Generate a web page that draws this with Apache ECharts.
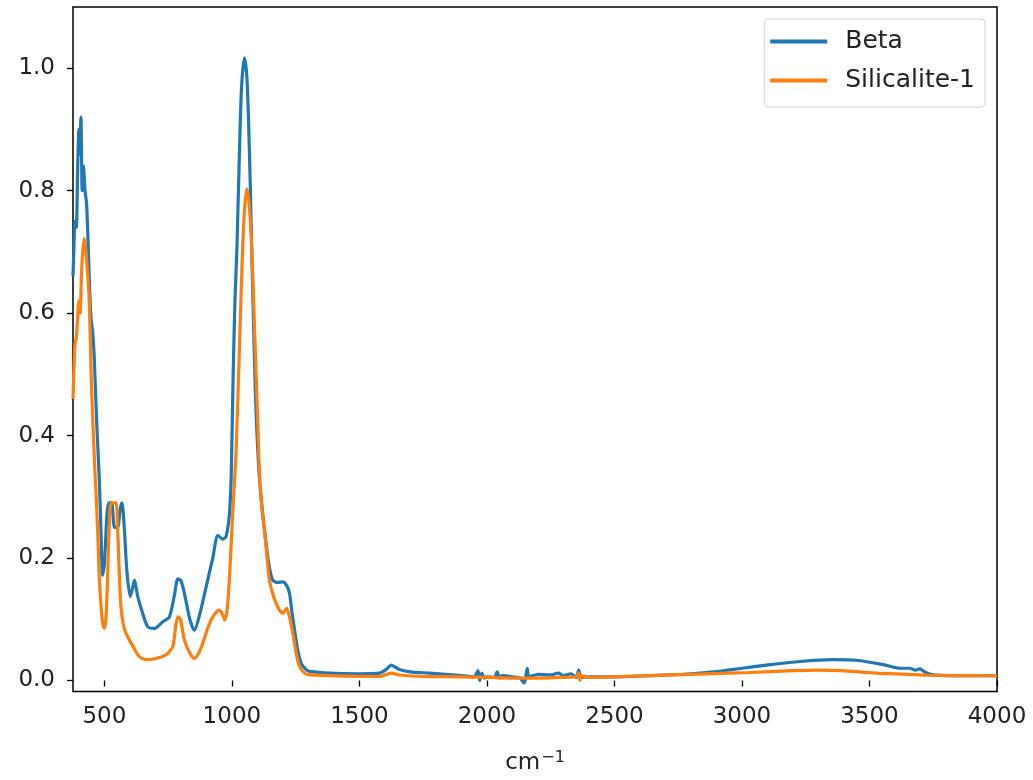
<!DOCTYPE html>
<html>
<head>
<meta charset="utf-8">
<script src="https://cdn.jsdelivr.net/npm/echarts@6/dist/echarts.min.js"></script>
<style>
  html, body { margin: 0; padding: 0; background: #fff; }
  #chart { width: 1033px; height: 780px; }
</style>
</head>
<body>
<div id="chart"></div>
<script>
// wavenumbers (cm-1) and absorbance
const betaWn = [377, 380, 385, 390, 395, 400, 403, 408, 413, 418, 424, 430, 435, 442, 448, 454, 460, 470, 480, 487, 493,
  500, 510, 517, 528, 540, 552, 562, 569, 578, 588, 601, 610, 618, 625, 631, 650, 670, 696, 729, 755, 775, 788, 800,
  814, 835, 853, 875, 899, 925, 945, 964, 977, 990, 997, 1005, 1012, 1020, 1030, 1038, 1049, 1058, 1065, 1072, 1078,
  1085, 1093, 1101, 1110, 1128, 1145, 1160, 1180, 1199, 1215, 1226, 1236, 1246, 1258, 1272, 1290, 1304, 1383, 1500,
  1579, 1605, 1625, 1640, 1657, 1700, 1775, 1900, 1950, 1965, 1972, 1980, 1990, 2000, 2030, 2040, 2050, 2060, 2100,
  2130, 2145, 2150, 2158, 2165, 2200, 2250, 2280, 2300, 2330, 2350, 2360, 2370, 2400, 2500, 2650, 2800, 2900, 3000,
  3096, 3227, 3358, 3449, 3554, 3620, 3658, 3680, 3697, 3720, 3750, 3850, 4000];
const betaAbs = [0.66, 0.70, 0.75, 0.74, 0.83, 0.90, 0.86, 0.92, 0.80, 0.84, 0.80, 0.78, 0.73, 0.64, 0.59, 0.57, 0.53, 0.42, 0.33, 0.24, 0.172,
  0.19, 0.27, 0.29, 0.29, 0.25, 0.25, 0.28, 0.29, 0.25, 0.18, 0.137, 0.15, 0.164, 0.15, 0.137, 0.11, 0.088, 0.085, 0.096, 0.104, 0.14, 0.166, 0.163,
  0.142, 0.10, 0.082, 0.11, 0.153, 0.20, 0.237, 0.231, 0.235, 0.27, 0.33, 0.50, 0.62, 0.71, 0.87, 0.97, 1.017, 0.99, 0.92, 0.81, 0.70,
  0.58, 0.46, 0.38, 0.32, 0.245, 0.19, 0.164, 0.16, 0.161, 0.155, 0.142, 0.11, 0.082, 0.05, 0.028, 0.018, 0.015, 0.012, 0.011,
  0.012, 0.018, 0.025, 0.022, 0.018, 0.014, 0.012, 0.008, 0.006, 0.016, 0.0, 0.012, 0.004, 0.006, 0.005, 0.014, 0.004, 0.008, 0.006,
  0.004, -0.004, 0.0, 0.02, 0.006, 0.01, 0.009, 0.012, 0.008, 0.011, 0.005, 0.017, 0.005, 0.006, 0.006, 0.008, 0.011, 0.0146, 0.02,
  0.025, 0.031, 0.034, 0.033, 0.026, 0.02, 0.02, 0.017, 0.019, 0.013, 0.0093, 0.008, 0.0077];

const silWn = [377, 380, 385, 390, 395, 400, 405, 410, 415, 421, 428, 435, 441, 448, 455, 462, 468, 474, 480, 487, 493,
  500, 506, 512, 518, 526, 536, 546, 552, 558, 565, 575, 585, 605, 620, 637, 663, 702, 742, 768, 780, 788, 798, 814,
  835, 853, 870, 886, 905, 925, 951, 963, 971, 980, 990, 1003, 1017, 1030, 1040, 1048, 1058, 1066, 1074, 1082, 1090,
  1100, 1108, 1118, 1128, 1138, 1147, 1165, 1186, 1200, 1215, 1225, 1239, 1252, 1265, 1285, 1304, 1579, 1625, 1657,
  1750, 1900, 2000, 2100, 2200, 2300, 2350, 2360, 2365, 2370, 2400, 2500, 2638, 2800, 3030, 3200, 3292, 3392, 3523,
  3650, 3730, 3850, 4000];
const silAbs = [0.46, 0.50, 0.55, 0.56, 0.59, 0.62, 0.60, 0.66, 0.70, 0.722, 0.70, 0.66, 0.62, 0.50, 0.42, 0.35, 0.30, 0.24, 0.17, 0.12, 0.095,
  0.085, 0.10, 0.16, 0.24, 0.29, 0.29, 0.29, 0.25, 0.18, 0.12, 0.09, 0.077, 0.061, 0.05, 0.039, 0.034, 0.036, 0.042, 0.055, 0.09, 0.104, 0.10, 0.066,
  0.045, 0.036, 0.045, 0.061, 0.085, 0.104, 0.115, 0.108, 0.099, 0.11, 0.164, 0.272, 0.38, 0.55, 0.68, 0.76, 0.803, 0.785, 0.74, 0.66, 0.56,
  0.44, 0.34, 0.28, 0.245, 0.20, 0.164, 0.135, 0.115, 0.11, 0.118, 0.105, 0.077, 0.045, 0.023, 0.012, 0.009, 0.0065, 0.012, 0.009,
  0.0065, 0.006, 0.005, 0.004, 0.004, 0.005, 0.006, 0.012, 0.0, 0.008, 0.005, 0.006, 0.008, 0.010, 0.013, 0.016, 0.017, 0.016, 0.012,
  0.010, 0.0085, 0.008, 0.0077];

const xTicks = [500, 1000, 1500, 2000, 2500, 3000, 3500, 4000];
const yTicks = [0.0, 0.2, 0.4, 0.6, 0.8, 1.0];

const pairs = (xs, ys) => xs.map((x, i) => [x, ys[i]]);

const chart = echarts.init(document.getElementById('chart'), null, { renderer: 'canvas' });

const font = 'DejaVu Sans';

chart.setOption({
  animation: false,
  grid: {
    left: 73, right: 36, top: 7, bottom: 86,
    show: true,
    borderColor: '#000',
    borderWidth: 1.5,
    backgroundColor: 'transparent'
  },
  legend: {
    orient: 'vertical',
    right: 48,
    top: 19,
    icon: 'rect',
    itemWidth: 57,
    itemHeight: 4,
    itemGap: 12,
    padding: [9, 10, 13, 6],
    borderColor: '#d0d0d0',
    borderWidth: 1,
    borderRadius: 4,
    backgroundColor: 'rgba(255,255,255,0.8)',
    textStyle: { fontFamily: font, fontSize: 25, color: '#222', lineHeight: 27, padding: [0, 0, 0, 13] },
    data: ['Beta', 'Silicalite-1']
  },
  xAxis: {
    type: 'value',
    min: 377,
    max: 4000,
    name: '{a|cm}{b|−1}',
    nameLocation: 'middle',
    nameGap: 58,
    nameTextStyle: {
      fontFamily: font, fontSize: 23, color: '#222',
      rich: {
        a: { fontFamily: font, fontSize: 23, color: '#222' },
        b: { fontFamily: font, fontSize: 16, color: '#222', padding: [0, 0, 12, 1] }
      }
    },
    splitLine: { show: false },
    axisLine: { show: false },
    axisTick: { show: true, length: 6, lineStyle: { color: '#000', width: 1.3 }, customValues: xTicks },
    axisLabel: { fontFamily: font, fontSize: 23, color: '#222', margin: 14, customValues: xTicks, formatter: v => String(v) }
  },
  yAxis: {
    type: 'value',
    min: -0.018,
    max: 1.1,
    splitLine: { show: false },
    axisLine: { show: false },
    axisTick: { show: true, length: 6, lineStyle: { color: '#000', width: 1.3 }, customValues: yTicks },
    axisLabel: { fontFamily: font, fontSize: 23, color: '#222', margin: 18, customValues: yTicks, formatter: v => v.toFixed(1) }
  },
  series: [
    {
      name: 'Beta',
      type: 'line',
      data: pairs(betaWn, betaAbs),
      showSymbol: false,
      smooth: 0.25,
      lineStyle: { color: '#1f77b4', width: 3.2 },
      itemStyle: { color: '#1f77b4' }
    },
    {
      name: 'Silicalite-1',
      type: 'line',
      data: pairs(silWn, silAbs),
      showSymbol: false,
      smooth: 0.25,
      lineStyle: { color: '#ff7f0e', width: 3.2 },
      itemStyle: { color: '#ff7f0e' }
    }
  ]
});
</script>
</body>
</html>
